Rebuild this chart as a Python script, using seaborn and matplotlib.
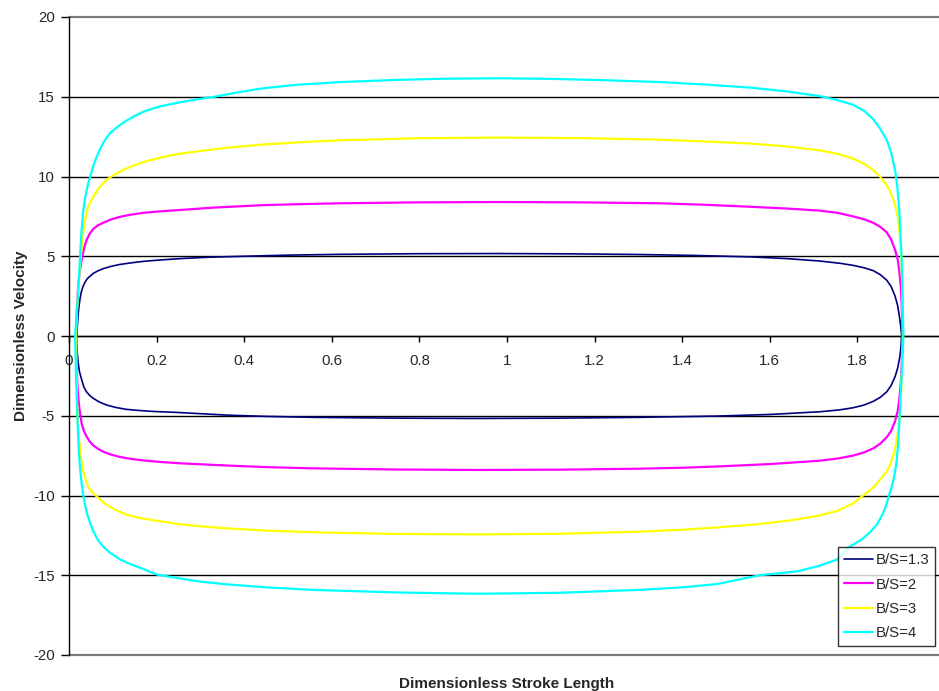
import matplotlib
matplotlib.use("Agg")
import matplotlib.pyplot as plt
import seaborn as sns
import pandas as pd

# ---- data (upper branch left->right, lower branch left->right)
bs13_x_up = [0.018, 0.019, 0.020, 0.021, 0.023, 0.025, 0.028, 0.032, 0.036, 0.042, 0.048, 0.055, 0.065, 0.078, 0.095, 0.115, 0.14, 0.17, 0.20, 0.253, 0.32, 0.40, 0.50, 0.62, 0.80, 0.98, 1.15, 1.30, 1.43, 1.557, 1.64, 1.714, 1.76, 1.79, 1.815, 1.836, 1.852, 1.867, 1.877, 1.886, 1.892, 1.896, 1.899, 1.901]
bs13_v_up = [0.0, 0.6, 1.0, 1.4, 1.9, 2.3, 2.75, 3.1, 3.35, 3.6, 3.75, 3.92, 4.07, 4.22, 4.36, 4.48, 4.58, 4.68, 4.75, 4.85, 4.94, 5.0, 5.07, 5.12, 5.16, 5.17, 5.15, 5.11, 5.05, 4.96, 4.85, 4.7, 4.56, 4.43, 4.28, 4.1, 3.85, 3.5, 3.1, 2.5, 1.9, 1.2, 0.6, 0.0]
bs13_x_dn = [0.017, 0.018, 0.019, 0.021, 0.024, 0.029, 0.034, 0.040, 0.047, 0.055, 0.068, 0.086, 0.107, 0.131, 0.16, 0.192, 0.253, 0.30, 0.36, 0.45, 0.56, 0.75, 0.93, 1.12, 1.30, 1.48, 1.60, 1.714, 1.76, 1.79, 1.815, 1.836, 1.852, 1.867, 1.877, 1.886, 1.892, 1.897, 1.899, 1.901]
bs13_v_dn = [0.0, -0.7, -1.1, -1.7, -2.25, -2.75, -3.2, -3.5, -3.72, -3.9, -4.12, -4.33, -4.48, -4.6, -4.67, -4.73, -4.8, -4.87, -4.96, -5.04, -5.1, -5.15, -5.17, -5.15, -5.1, -5.02, -4.92, -4.75, -4.63, -4.5, -4.33, -4.1, -3.85, -3.5, -3.1, -2.55, -2.0, -1.3, -0.8, 0.0]

bs2_x_up = [0.016, 0.017, 0.018, 0.019, 0.021, 0.023, 0.025, 0.027, 0.029, 0.032, 0.036, 0.040, 0.047, 0.055, 0.065, 0.078, 0.095, 0.116, 0.14, 0.169, 0.21, 0.253, 0.33, 0.44, 0.53, 0.62, 0.80, 0.98, 1.16, 1.35, 1.45, 1.557, 1.64, 1.714, 1.755, 1.79, 1.815, 1.836, 1.852, 1.867, 1.877, 1.886, 1.892, 1.896, 1.899, 1.901, 1.902, 1.903]
bs2_v_up = [0.0, 1.0, 1.7, 2.26, 3.1, 3.7, 4.1, 4.5, 4.8, 5.2, 5.65, 6.0, 6.4, 6.7, 6.92, 7.1, 7.3, 7.47, 7.6, 7.72, 7.82, 7.9, 8.05, 8.2, 8.27, 8.32, 8.38, 8.4, 8.38, 8.32, 8.23, 8.1, 7.99, 7.86, 7.72, 7.5, 7.32, 7.1, 6.85, 6.5, 6.05, 5.4, 4.8, 4.0, 3.1, 2.0, 1.0, 0.0]
bs2_x_dn = [0.016, 0.017, 0.018, 0.019, 0.021, 0.024, 0.029, 0.034, 0.040, 0.047, 0.055, 0.065, 0.078, 0.095, 0.116, 0.14, 0.169, 0.21, 0.253, 0.36, 0.45, 0.56, 0.75, 0.93, 1.12, 1.30, 1.40, 1.48, 1.60, 1.714, 1.755, 1.79, 1.815, 1.836, 1.852, 1.867, 1.877, 1.886, 1.892, 1.896, 1.899, 1.901, 1.902, 1.903]
bs2_v_dn = [0.0, -1.4, -2.3, -3.0, -3.8, -4.6, -5.5, -5.95, -6.3, -6.6, -6.85, -7.05, -7.25, -7.43, -7.58, -7.7, -7.8, -7.9, -7.98, -8.12, -8.22, -8.3, -8.37, -8.4, -8.38, -8.32, -8.26, -8.18, -8.03, -7.82, -7.68, -7.5, -7.3, -7.05, -6.75, -6.35, -5.95, -5.35, -4.7, -3.9, -3.0, -2.0, -1.0, 0.0]

bs3_x_up = [0.016, 0.018, 0.020, 0.022, 0.025, 0.028, 0.032, 0.036, 0.041, 0.047, 0.055, 0.065, 0.078, 0.092, 0.109, 0.127, 0.147, 0.17, 0.192, 0.22, 0.253, 0.30, 0.36, 0.44, 0.53, 0.62, 0.80, 0.98, 1.16, 1.35, 1.45, 1.557, 1.64, 1.714, 1.755, 1.79, 1.815, 1.836, 1.85, 1.863, 1.873, 1.882, 1.888, 1.893, 1.897, 1.900, 1.902, 1.903, 1.904]
bs3_v_up = [0.0, 1.4, 2.5, 3.3, 4.4, 5.3, 6.4, 7.2, 7.85, 8.3, 8.7, 9.15, 9.6, 9.92, 10.2, 10.45, 10.68, 10.9, 11.07, 11.25, 11.43, 11.6, 11.8, 12.0, 12.15, 12.27, 12.4, 12.44, 12.41, 12.31, 12.2, 12.06, 11.88, 11.64, 11.42, 11.12, 10.8, 10.4, 10.05, 9.6, 9.15, 8.55, 8.0, 7.3, 6.3, 5.0, 3.4, 1.8, 0.0]
bs3_x_dn = [0.016, 0.017, 0.018, 0.020, 0.023, 0.027, 0.032, 0.038, 0.044, 0.053, 0.063, 0.077, 0.093, 0.11, 0.131, 0.16, 0.192, 0.253, 0.30, 0.36, 0.45, 0.56, 0.75, 0.93, 1.12, 1.30, 1.40, 1.48, 1.58, 1.65, 1.714, 1.755, 1.79, 1.813, 1.836, 1.852, 1.867, 1.877, 1.886, 1.892, 1.897, 1.900, 1.902, 1.904]
bs3_v_dn = [0.0, -2.0, -3.8, -5.3, -6.5, -7.6, -8.4, -9.0, -9.45, -9.8, -10.05, -10.4, -10.7, -10.95, -11.2, -11.4, -11.55, -11.8, -11.93, -12.06, -12.2, -12.31, -12.41, -12.44, -12.4, -12.27, -12.15, -12.0, -11.78, -11.55, -11.25, -10.95, -10.5, -10.0, -9.5, -9.0, -8.5, -7.9, -7.1, -6.1, -4.85, -3.4, -1.9, 0.0]

bs4_x_up = [0.014, 0.017, 0.021, 0.024, 0.0265, 0.029, 0.032, 0.037, 0.044, 0.050, 0.055, 0.062, 0.0705, 0.080, 0.093, 0.11, 0.131, 0.15, 0.169, 0.19, 0.208, 0.23, 0.253, 0.29, 0.332, 0.38, 0.44, 0.52, 0.62, 0.75, 0.86, 0.98, 1.10, 1.22, 1.35, 1.45, 1.557, 1.64, 1.714, 1.75, 1.79, 1.815, 1.836, 1.852, 1.867, 1.877, 1.886, 1.891, 1.895, 1.898, 1.901, 1.903, 1.905]
bs4_v_up = [0.0, 1.2, 2.7, 4.3, 5.6, 6.7, 7.7, 8.7, 9.6, 10.15, 10.6, 11.15, 11.7, 12.2, 12.7, 13.1, 13.5, 13.8, 14.05, 14.25, 14.4, 14.52, 14.65, 14.83, 15.0, 15.25, 15.52, 15.75, 15.92, 16.06, 16.13, 16.16, 16.12, 16.04, 15.92, 15.77, 15.57, 15.33, 15.04, 14.82, 14.5, 14.12, 13.6, 13.0, 12.3, 11.5, 10.4, 9.4, 8.1, 6.6, 4.8, 2.6, 0.0]
bs4_x_dn = [0.014, 0.016, 0.019, 0.021, 0.023, 0.026, 0.029, 0.032, 0.036, 0.042, 0.048, 0.055, 0.065, 0.078, 0.095, 0.116, 0.14, 0.169, 0.20, 0.253, 0.30, 0.36, 0.45, 0.56, 0.75, 0.93, 1.12, 1.30, 1.40, 1.48, 1.577, 1.664, 1.714, 1.755, 1.78, 1.81, 1.829, 1.845, 1.859, 1.867, 1.872, 1.878, 1.884, 1.889, 1.893, 1.897, 1.900, 1.903, 1.905]
bs4_v_dn = [0.0, -2.5, -4.8, -6.3, -7.5, -8.5, -9.3, -9.9, -10.5, -11.2, -11.7, -12.2, -12.75, -13.2, -13.62, -14.0, -14.3, -14.6, -14.95, -15.2, -15.4, -15.57, -15.76, -15.92, -16.08, -16.16, -16.1, -15.92, -15.76, -15.55, -15.0, -14.75, -14.4, -14.0, -13.25, -12.75, -12.3, -11.8, -11.1, -10.5, -10.0, -9.5, -8.8, -8.0, -6.8, -4.8, -3.0, -1.4, 0.0]

series_labels = ["B/S=1.3", "B/S=2", "B/S=3", "B/S=4"]
series_colors = ["#000080", "#FF00FF", "#FFFF00", "#00FFFF"]
x_ticks = [0, 0.2, 0.4, 0.6, 0.8, 1.0, 1.2, 1.4, 1.6, 1.8]
x_tick_labels = ["0", "0.2", "0.4", "0.6", "0.8", "1", "1.2", "1.4", "1.6", "1.8"]
y_ticks = [-20, -15, -10, -5, 0, 5, 10, 15, 20]

ups = [(bs13_x_up, bs13_v_up), (bs2_x_up, bs2_v_up), (bs3_x_up, bs3_v_up), (bs4_x_up, bs4_v_up)]
dns = [(bs13_x_dn, bs13_v_dn), (bs2_x_dn, bs2_v_dn), (bs3_x_dn, bs3_v_dn), (bs4_x_dn, bs4_v_dn)]

sns.set_style("white")
plt.rcParams['font.family'] = ['Liberation Sans', 'DejaVu Sans']

fig = plt.figure(figsize=(9.39, 6.91), dpi=100)
ax = fig.add_axes([69 / 939, 36 / 691, 876 / 939, 638 / 691])

for lab, col, (xu, vu), (xd, vd) in zip(series_labels, series_colors, ups, dns):
    xs = list(xu) + list(xd[::-1])
    vs = list(vu) + list(vd[::-1])
    df = pd.DataFrame({"x": xs, "v": vs})
    sns.lineplot(data=df, x="x", y="v", sort=False, estimator=None, color=col,
                 lw=1.2 if lab == "B/S=1.3" else 1.6, label=lab, ax=ax, zorder=3)

ax.set_xlim(0, 2)
ax.set_ylim(-20, 20)
ax.set_yticks(y_ticks)
ax.set_yticklabels([str(t) for t in y_ticks])
ax.set_xticks(x_ticks)
ax.set_xticklabels(x_tick_labels)

for t in y_ticks:
    ax.axhline(t, color="#000000" if abs(t) != 20 else "#7a7a7a",
               lw=1.0 if abs(t) != 20 else 1.6, zorder=2, clip_on=False)

for s in ["top", "right"]:
    ax.spines[s].set_visible(False)
ax.spines["left"].set_color("#000000")
ax.spines["left"].set_linewidth(1.0)
ax.spines["bottom"].set_position(("data", 0))
ax.spines["bottom"].set_color("#000000")
ax.spines["bottom"].set_linewidth(1.0)

ax.tick_params(axis="y", direction="out", length=6, width=1, color="#000000",
               labelsize=10.8, pad=4, left=True)
ax.tick_params(axis="x", direction="out", length=4, width=1, color="#000000",
               labelsize=10.8, pad=9, bottom=True)

ax.set_xlabel("Dimensionless Stroke Length", fontsize=11, fontweight="bold")
ax.set_ylabel("Dimensionless Velocity", fontsize=11, fontweight="bold")
ax.xaxis.set_label_coords(0.5, -0.034)
ax.yaxis.set_label_coords(-0.047, 0.5)

leg = ax.legend(loc="lower left", bbox_to_anchor=(0.878, 0.014), frameon=True,
                fontsize=10.8, handlelength=1.9, handletextpad=0.2, labelspacing=0.68,
                borderpad=0.4, borderaxespad=0.0, fancybox=False)
leg.get_frame().set_edgecolor("#000000")
leg.get_frame().set_linewidth(1.0)
leg.set_zorder(5)

fig.savefig("out.png", dpi=100, facecolor="white")
